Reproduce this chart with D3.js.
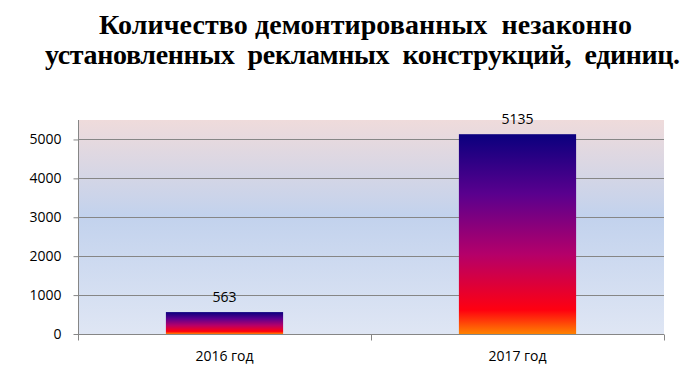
<!DOCTYPE html>
<html><head><meta charset="utf-8">
<script src="https://cdn.jsdelivr.net/npm/d3@7"></script>
<style>body{margin:0;background:#fff}svg{display:block}</style>
</head><body>
<svg id="c" width="690" height="370"></svg>
<script>
const categories = ["2016 год", "2017 год"];
const values = [563, 5135];
const yTicks = [0, 1000, 2000, 3000, 4000, 5000];
const titleLines = ["Количество демонтированных  незаконно", "установленных  рекламных  конструкций,  единиц."];

const svg = d3.select("#c");
const m = {left: 78, right: 664, top: 120, bottom: 334};
const defs = svg.append("defs");
const bg = defs.append("linearGradient").attr("id","bg").attr("x1",0).attr("y1",0).attr("x2",0).attr("y2",1);
[[0,"#efdbdb"],[0.45,"#c2d2ed"],[1,"#dfe6f4"]].forEach(s=>bg.append("stop").attr("offset",s[0]).attr("stop-color",s[1]));
const bg2 = defs.append("linearGradient").attr("id","bar").attr("x1",0).attr("y1",0).attr("x2",0).attr("y2",1);
[[0,"#0a007e"],[0.3,"#5a008e"],[0.6,"#b4006a"],[0.88,"#ff0010"],[1,"#ff8200"]].forEach(s=>bg2.append("stop").attr("offset",s[0]).attr("stop-color",s[1]));

const x = d3.scaleBand().domain(categories).range([m.left, m.right]).padding(0);
const y = d3.scaleLinear().domain([0, 5500]).range([m.bottom, m.top]);

svg.append("rect").attr("x",m.left).attr("y",m.top).attr("width",m.right-m.left).attr("height",m.bottom-m.top).attr("fill","url(#bg)");

// gridlines
svg.append("g").selectAll("line").data(yTicks.filter(d=>d>0)).join("line")
  .attr("x1",m.left).attr("x2",m.right).attr("y1",d=>Math.round(y(d))+0.5).attr("y2",d=>Math.round(y(d))+0.5)
  .attr("stroke","#868686").attr("stroke-width",1);

// bars
const bw = x.bandwidth()*0.4;
svg.append("g").selectAll("rect").data(values).join("rect")
  .attr("x",(d,i)=>x(categories[i])+x.bandwidth()/2-bw/2)
  .attr("width",bw)
  .attr("y",d=>y(d)).attr("height",d=>y(0)-y(d))
  .attr("fill","url(#bar)");

// value labels
svg.append("g").selectAll("text").data(values).join("text")
  .attr("x",(d,i)=>x(categories[i])+x.bandwidth()/2)
  .attr("y",d=>y(d)-10)
  .attr("text-anchor","middle").attr("font-family","'Open Sans', sans-serif").attr("font-size",14).attr("fill","#000")
  .text(d=>d);

// y axis
const ya = svg.append("g").attr("transform",`translate(${m.left+0.5},0)`)
  .call(d3.axisLeft(y).tickValues(yTicks).tickFormat(d3.format("d")).tickSize(5).tickPadding(12).tickSizeOuter(0));
ya.select(".domain").attr("stroke","#868686").attr("d",`M0,${m.top}V${m.bottom+6}`);
ya.selectAll(".tick line").attr("stroke","#868686");
ya.selectAll(".tick text").attr("font-family","'Open Sans', sans-serif").attr("font-size",14).attr("fill","#000");

// x axis
const xa = svg.append("g").attr("transform",`translate(0,${Math.round(m.bottom)+0.5})`)
  .call(d3.axisBottom(x).tickSize(0).tickPadding(17));
xa.select(".domain").attr("stroke","#868686").attr("d",`M${m.left},0H${m.right}`);
xa.selectAll(".tick text").attr("font-family","'Open Sans', sans-serif").attr("font-size",14).attr("fill","#000");
const bounds = [m.left, ...categories.slice(1).map(c=>x(c)), m.right];
xa.append("g").selectAll("line").data(bounds).join("line")
  .attr("x1",d=>Math.round(d)+0.5).attr("x2",d=>Math.round(d)+0.5).attr("y1",0).attr("y2",6).attr("stroke","#868686");

// title
const tx = [99, 45], tw = [533, 635];
svg.append("g").selectAll("text").data(titleLines).join("text")
  .attr("x",(d,i)=>tx[i]).attr("y",(d,i)=>33.5+i*30)
  .attr("text-anchor","start").attr("font-family","'Liberation Serif', 'Times New Roman', serif")
  .attr("font-weight","bold").attr("font-size",28).attr("fill","#000")
  .attr("textLength",(d,i)=>tw[i]).attr("lengthAdjust","spacing")
  .style("white-space","pre").text(d=>d);
</script>
</body></html>
